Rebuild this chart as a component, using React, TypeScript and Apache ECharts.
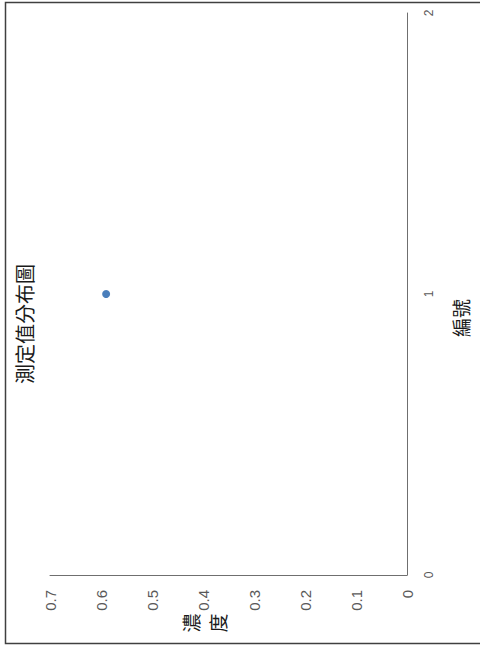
import React, { useEffect, useRef } from "react";
import * as echarts from "echarts";

const chartTitle = "測定值分布圖";
const indexAxisName = "編號";
const concAxisName = "濃度";
const sampleIndex = [1];
const concentration = [0.59];
const concRange = [0, 0.7];
const indexRange = [0, 2];

export default function App() {
  const ref = useRef<HTMLDivElement>(null);
  useEffect(() => {
    if (!ref.current) return;
    const chart = echarts.init(ref.current, undefined, { renderer: "svg" });
    const data = sampleIndex.map((idx, i) => [concentration[i], idx]);
    chart.setOption({
      animation: false,
      backgroundColor: "#ffffff",
      grid: { left: 50, right: 73, top: 13, bottom: 70, containLabel: false },
      xAxis: {
        type: "value",
        min: concRange[0],
        max: concRange[1],
        interval: 0.1,
        inverse: true,
        position: "bottom",
        axisLine: { show: true, onZero: false, lineStyle: { color: "#6f6f6f", width: 1 } },
        axisTick: { show: false },
        splitLine: { show: false },
        axisLabel: {
          rotate: 90,
          margin: 15,
          fontSize: 15,
          color: "#595959",
          fontFamily: "Liberation Sans, Arial, sans-serif",
          formatter: (v: number) => (Math.round(v * 10) / 10).toString(),
        },
      },
      yAxis: {
        type: "value",
        min: indexRange[0],
        max: indexRange[1],
        interval: 1,
        position: "right",
        axisLine: { show: true, onZero: false, lineStyle: { color: "#6f6f6f", width: 1 } },
        axisTick: { show: false },
        splitLine: { show: false },
        axisLabel: {
          rotate: 90,
          margin: 16,
          fontSize: 12,
          color: "#595959",
          fontFamily: "Liberation Sans, Arial, sans-serif",
        },
      },
      graphic: [
        {
          type: "rect",
          shape: { x: 5.5, y: 2.5, width: 480, height: 641 },
          style: { fill: "none", stroke: "#404040", lineWidth: 1.5 },
          silent: true,
          z: 100,
        },
        {
          type: "text",
          x: 24,
          y: 324,
          rotation: Math.PI / 2,
          style: {
            text: chartTitle,
            fontSize: 20,
            fontFamily: "Noto Sans CJK TC, sans-serif",
            fill: "#1a1a1a",
            align: "center",
            verticalAlign: "middle",
          },
        },
        {
          type: "text",
          x: 460,
          y: 318,
          rotation: Math.PI / 2,
          style: {
            text: indexAxisName,
            fontSize: 19,
            fontFamily: "Noto Sans CJK TC, sans-serif",
            fill: "#1a1a1a",
            align: "center",
            verticalAlign: "middle",
          },
        },
        {
          type: "text",
          x: 204,
          y: 623,
          rotation: Math.PI / 2,
          style: {
            text: concAxisName.split("").join("\n"),
            fontSize: 19,
            lineHeight: 27,
            fontFamily: "Noto Sans CJK TC, sans-serif",
            fill: "#1a1a1a",
            align: "center",
            verticalAlign: "middle",
          },
        },
      ],
      series: [
        {
          type: "scatter",
          data,
          symbol: "circle",
          symbolSize: 8,
          itemStyle: { color: "#4a7ebb", opacity: 1 },
        },
      ],
    });
    return () => chart.dispose();
  }, []);
  return (
    <div
      ref={ref}
      style={{ position: "absolute", left: 0, top: 0, width: 480, height: 645 }}
    />
  );
}
